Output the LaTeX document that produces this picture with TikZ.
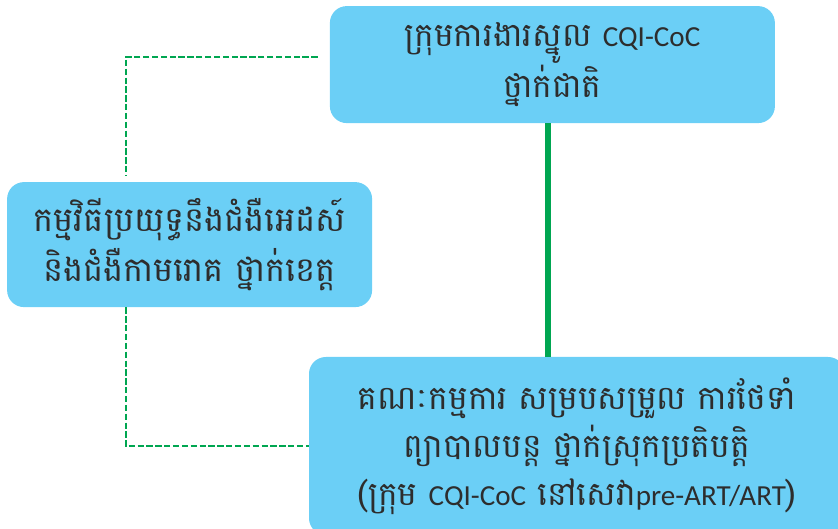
\documentclass[tikz,border=0pt]{standalone}
\usepackage{fontspec}
\newfontfamily\khmer[Script=Khmer]{Battambang}
\newfontfamily\latin[Scale=0.88]{Carlito}
\definecolor{boxblue}{HTML}{6BCFF6}
\definecolor{linkgreen}{HTML}{00A651}
\definecolor{inkgrey}{HTML}{2D2D2D}
\tikzset{
	level/.style={fill=boxblue, rounded corners=12pt, align=center, text=inkgrey, inner sep=0pt, font=\khmer\fontsize{23.5}{34}\selectfont},
	dashlink/.style={linkgreen, line width=1.4pt, dash pattern=on 4.5pt off 1.8pt},
	mainlink/.style={linkgreen, line width=4.5pt}
}

\begin{document}
\begin{tikzpicture}
		\useasboundingbox (0,0) rectangle (20.95,13.225);
		\clip (0,0) rectangle (20.95,13.225);
		
		\node[level, minimum width=11.125cm, minimum height=2.925cm] (national) at (13.81,11.61) {ក្រុមការងារស្នូល {\latin CQI-CoC}\\ថ្នាក់ជាតិ};
		\node[level, minimum width=9.125cm, minimum height=3.125cm, font=\khmer\fontsize{24}{36}\selectfont] (provincial) at (4.74,7.11) {កម្មវិធីប្រយុទ្ធនឹងជំងឺអេដស៍\\និងជំងឺកាមរោគ ថ្នាក់ខេត្ត};
		\node[level, minimum width=13.4cm, minimum height=4.45cm, font=\khmer\fontsize{23.5}{34}\selectfont] (district) at (14.425,2.075) {គណៈកម្មការ សម្របសម្រួល ការថែទាំ\\ព្យាបាលបន្ត ថ្នាក់ស្រុកប្រតិបត្តិ\\({\khmer ក្រុម} {\latin CQI-CoC} នៅសេវា{\latin pre-ART/ART})};
		
		\draw [mainlink] ([xshift=-0.11cm]national.south) -- ([xshift=-0.11cm]national.south |- district.north);
		\draw [dashlink] ([xshift=-0.3cm,yshift=0.19cm]national.west) -| ([xshift=-1.6cm,yshift=0.17cm]provincial.north);
		\draw [dashlink] ([xshift=-1.6cm]provincial.south) |- (district.west);
	\end{tikzpicture}
\end{document}
